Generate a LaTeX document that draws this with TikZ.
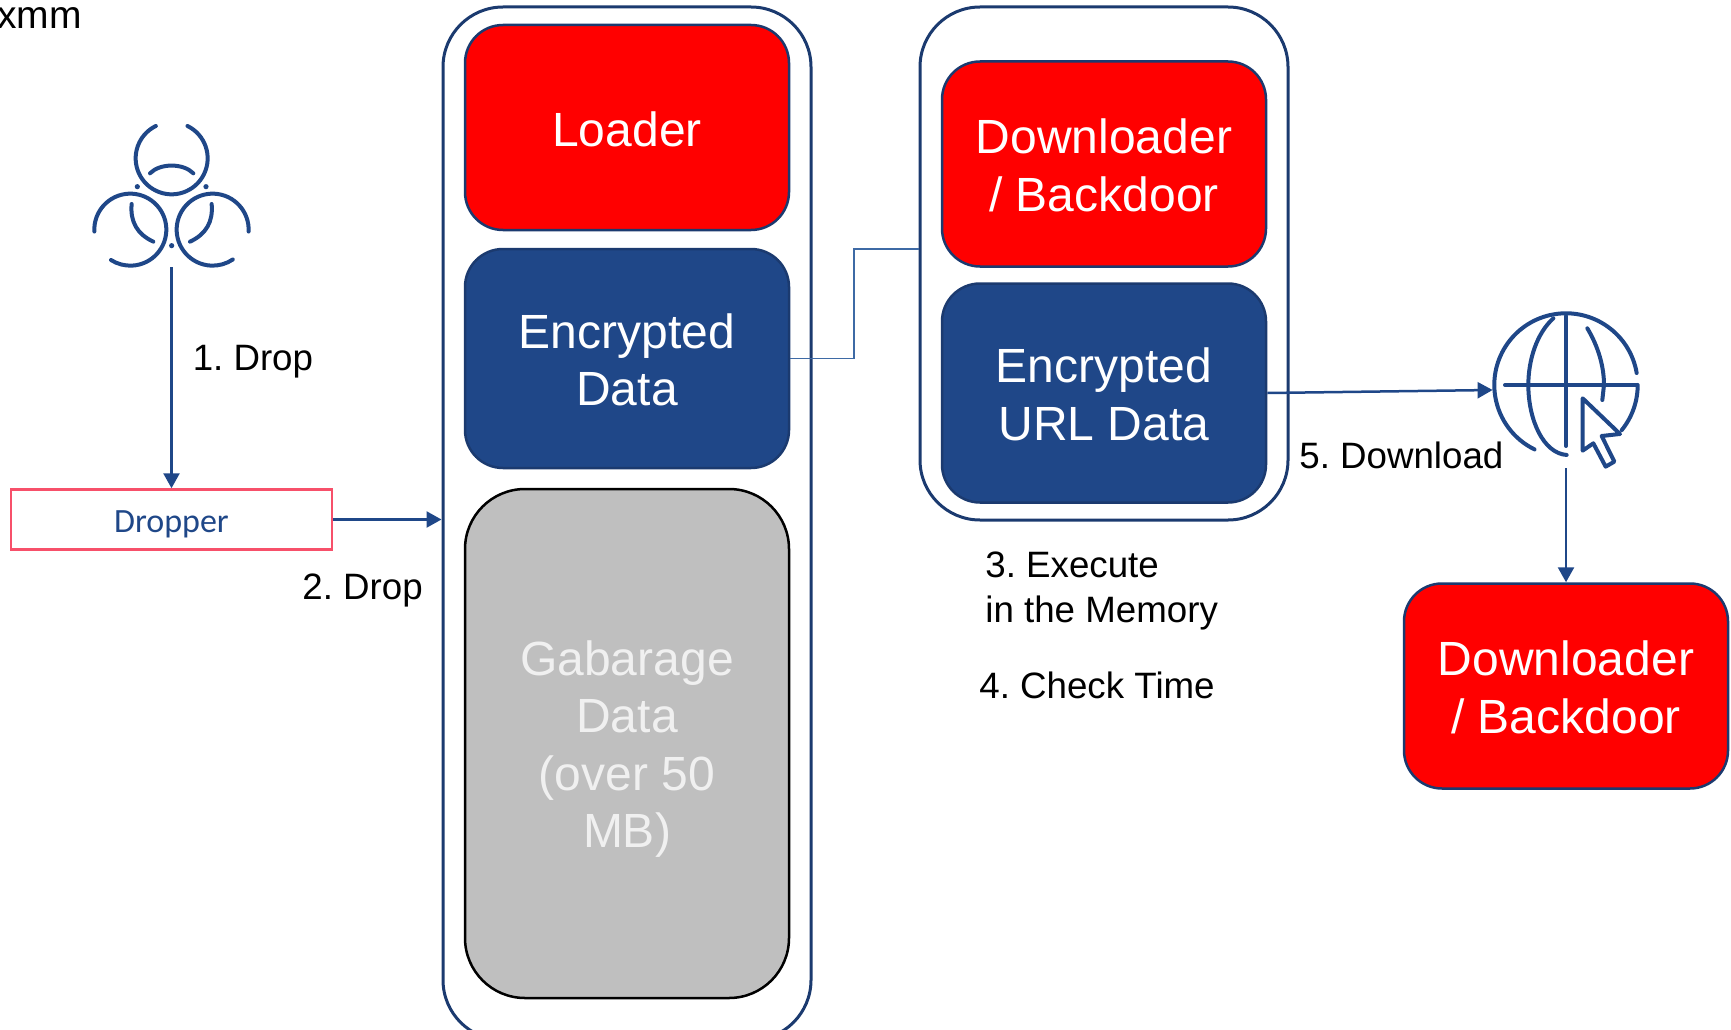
\documentclass[tikz,border=0pt]{standalone}
\usepackage{fontspec}
\setmainfont{Liberation Sans}
\newfontfamily\dropperfont{Carlito}
\usepackage{xcolor}
\usetikzlibrary{arrows.meta}
\definecolor{navy}{HTML}{1F4788}
\definecolor{deepnavy}{HTML}{1B3A6F}
\definecolor{paleline}{HTML}{3E6AA5}
\definecolor{dropred}{HTML}{F7506A}
\frenchspacing

\begin{document}
\begin{tikzpicture}[x=1pt, y=-1pt, thick,
                    big node/.style={inner sep=0pt, align=center, font=\fontsize{48pt}{57.5pt}\selectfont},
                    frame node/.style={draw=deepnavy, line width=3pt, rounded corners=60pt, minimum width=368pt},
                    red node/.style={big node, draw=deepnavy, line width=2.5pt, fill=red, text=white, rounded corners=38pt,
                                     minimum width=324pt, minimum height=205pt},
                    blue node/.style={big node, draw=deepnavy, line width=2.5pt, fill=navy, text=white, rounded corners=38pt,
                                      minimum width=324pt, minimum height=219pt},
                    icon node/.style={inner sep=0pt},
                    note node/.style={inner sep=0pt, anchor=base west, align=left, font=\fontsize{36.7pt}{45pt}\selectfont},
                    icon line/.style={draw=navy, line width=4pt, line cap=round, line join=round}]

  \useasboundingbox (0,0) rectangle (1731,1030);

  \node[note node, font=\fontsize{39pt}{45pt}\selectfont] (title) at (-3,29) {xmm};

  \node[icon node, minimum width=156pt, minimum height=142pt] (bio) at (171.5,196) {};
  \node[draw=dropred, line width=2.5pt, minimum width=321pt, minimum height=60pt, inner sep=0pt,
        text height=31pt, text depth=6pt, text=navy, font=\dropperfont\fontsize{34pt}{40pt}\selectfont]
        (dropper) [below of=bio, node distance=323.5pt] {Dropper};

  \node[frame node, minimum height=1033pt] (carrier) at (627,523.5) {};
  \node[red node] (loader) at (627,127.5) {\rule{0pt}{38pt}Loader};
  \node[blue node] (encdata) [below of=loader, node distance=231pt] {\rule{0pt}{37pt}Encrypted\\Data};
  \node[big node, draw=black, line width=2.5pt, fill=black!25, text=black!6, rounded corners=60pt,
        minimum width=324pt, minimum height=509pt] (garbage) [below of=encdata, node distance=385pt]
        {\rule{0pt}{46pt}Gabarage\\Data\\(over 50\\MB)};

  \node[frame node, minimum height=513pt] (memory) at (1104,263.5) {};
  \node[red node] (payload) at (1104,164) {\rule{0pt}{37pt}Downloader\\/ Backdoor};
  \node[blue node] (encurl) [below of=payload, node distance=229pt] {\rule{0pt}{37pt}Encrypted\\URL Data};

  \node[icon node, minimum width=146pt, minimum height=156pt] (globe) at (1566,390) {};
  \node[red node] (final) [below of=globe, node distance=296pt] {\rule{0pt}{37pt}Downloader\\/ Backdoor};

  \node[note node] (drop2) at (302,599) {2. Drop};
  \node[note node] (execute) at (985,622) {3. Execute\\in the Memory};
  \node[note node] (check) at (979,698) {4. Check Time};
  \node[note node] (download) at (1299,468) {5. Download};

  \coordinate (bend) at (854,249);

  \path[color=navy, line width=2.5pt, -{Triangle[length=15pt,width=16pt]},
        every node/.style={inner sep=0pt, text=black, font=\fontsize{36.7pt}{45pt}\selectfont}]
    (bio) edge node [right, pos=.425, xshift=20pt] {1. Drop} (dropper)
    (dropper.east) edge (dropper.east -| carrier.west)
    (encurl.east) edge (globe.west)
    (globe) edge (final);

  \draw[paleline, line width=1.3pt] (encdata.east) -| (bend) -- (memory.west |- bend);

  \begin{scope}[shift={(70,100)}, x=.3333pt, y=-.3333pt]
    \draw[icon line] (305,175) ++(64:36pt) arc[start angle=64, end angle=-244, radius=36pt];
    \draw[icon line] (181,389) ++(183:36pt) arc[start angle=183, end angle=-122.5, radius=36pt];
    \draw[icon line] (428,389) ++(-3:36pt) arc[start angle=-3, end angle=304, radius=36pt];
    \draw[icon line] (240,220) .. controls (270,189) and (340,189) .. (370,220);
    \draw[icon line] (185,312) .. controls (180,365) and (201.6,402.7) .. (250,425);
    \draw[icon line] (425,312) .. controls (430,365) and (408.4,402.7) .. (360,425);
    \fill[navy] (202,260) circle (2.6pt) (408,260) circle (2.6pt) (305,437) circle (2.6pt);
  \end{scope}

  \begin{scope}[shift={(1460,290)}, x=.3333pt, y=-.3333pt]
    \draw[icon line] (318,285) ++(9.6:71.7pt) arc[start angle=9.6, end angle=244, radius=71.7pt];
    \draw[icon line] (318,285) ++(0:71.7pt) arc[start angle=0, end angle=-39, radius=71.7pt];
    \draw[icon line] (135,285) -- (530,285);
    \draw[icon line] (318,78) -- (318,468);
    \draw[icon line] (280,85) .. controls (230,130) and (205,210) .. (205,285)
                              .. controls (205,390) and (250,490) .. (320,495);
    \draw[icon line] (382,115) .. controls (415,170) and (432,230) .. (432,285) -- (427,330);
    \draw[icon line, fill=white] (368,325) -- (480,432) -- (425,438) -- (463,515) -- (437,530) -- (400,460) -- (368,482) -- cycle;
  \end{scope}
\end{tikzpicture}
\end{document}
